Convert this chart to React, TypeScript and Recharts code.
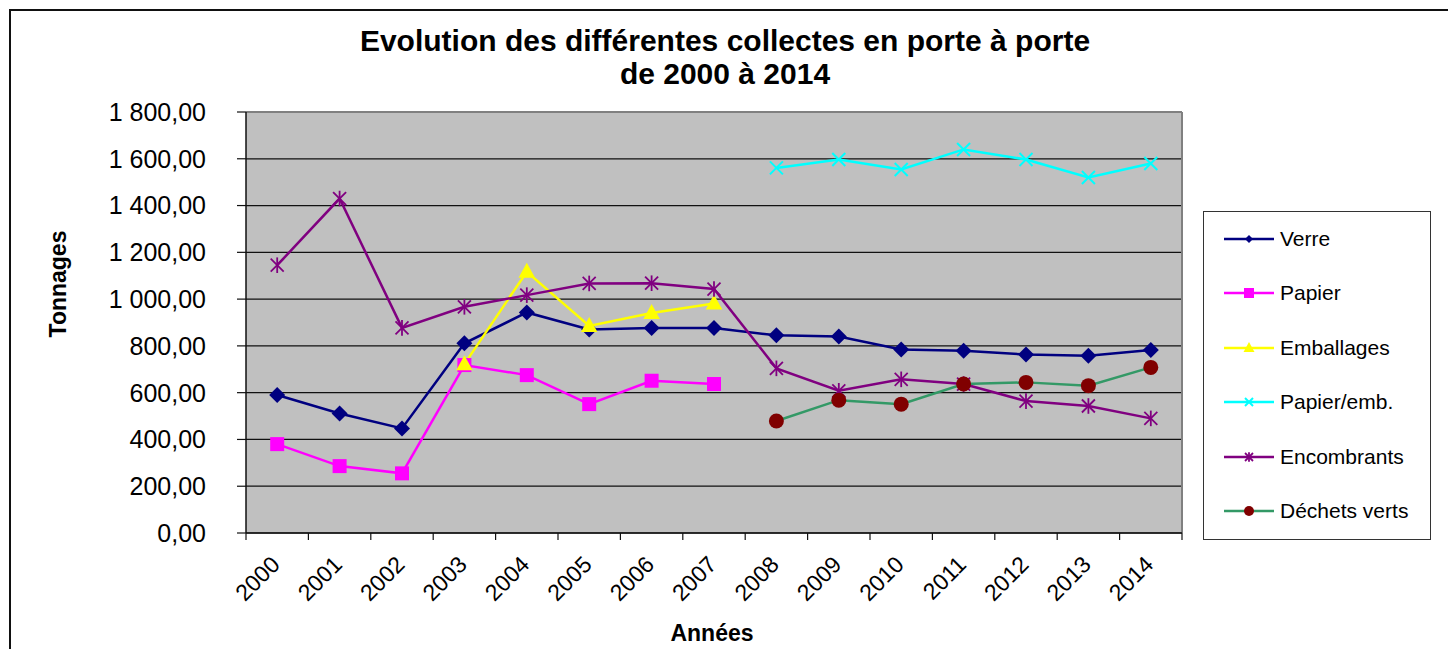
import React from 'react'
import { LineChart, Line, XAxis, YAxis, CartesianGrid, ReferenceLine } from 'recharts'

const years = ['2000', '2001', '2002', '2003', '2004', '2005', '2006', '2007', '2008', '2009', '2010', '2011', '2012', '2013', '2014']
const verre = [590, 511, 447, 811, 943, 870, 876, 876, 845, 840, 785, 779, 763, 758, 782]
const papier = [380, 286, 255, 718, 675, 551, 651, 637, null, null, null, null, null, null, null]
const emballages = [null, null, null, 722, 1117, 885, 941, 981, null, null, null, null, null, null, null]
const papierEmb = [null, null, null, null, null, null, null, null, 1561, 1597, 1554, 1640, 1597, 1520, 1580]
const encombrants = [1145, 1430, 877, 967, 1017, 1067, 1068, 1043, 704, 608, 657, 637, 564, 543, 490]
const dechetsVerts = [null, null, null, null, null, null, null, null, 479, 568, 551, 637, 644, 630, 708]
const yTicks = [0, 200, 400, 600, 800, 1000, 1200, 1400, 1600, 1800]

const data = years.map((y, i) => ({
  i,
  year: y,
  verre: verre[i],
  papier: papier[i],
  emballages: emballages[i],
  papierEmb: papierEmb[i],
  encombrants: encombrants[i],
  dechetsVerts: dechetsVerts[i],
}))

// tick marks sit between the years, labels on the years
const bounds = [...years.map((_, i) => i - 0.5), years.length - 0.5]
const centers = years.map((_, i) => i)

const FONT = '"Liberation Sans", Arial, sans-serif'

const fmt = (v: number) => String(Math.round(v)).replace(/\B(?=(\d{3})+(?!\d))/g, ' ') + ',00'

type Shape = 'diamond' | 'square' | 'triangle' | 'x' | 'star' | 'circle'

function Marker({ shape, cx, cy, color, s }: { shape: Shape; cx: number; cy: number; color: string; s: number }) {
  switch (shape) {
    case 'diamond':
      return <polygon points={`${cx},${cy - s} ${cx + s},${cy} ${cx},${cy + s} ${cx - s},${cy}`} fill={color} />
    case 'square':
      return <rect x={cx - s} y={cy - s} width={s * 2} height={s * 2} fill={color} />
    case 'triangle':
      return <polygon points={`${cx},${cy - s * 1.2} ${cx + s * 1.1},${cy + s * 0.8} ${cx - s * 1.1},${cy + s * 0.8}`} fill={color} />
    case 'x':
      return (
        <g stroke={color} strokeWidth={2}>
          <line x1={cx - s} y1={cy - s} x2={cx + s} y2={cy + s} />
          <line x1={cx - s} y1={cy + s} x2={cx + s} y2={cy - s} />
        </g>
      )
    case 'star':
      return (
        <g stroke={color} strokeWidth={1.8}>
          <line x1={cx - s} y1={cy - s} x2={cx + s} y2={cy + s} />
          <line x1={cx - s} y1={cy + s} x2={cx + s} y2={cy - s} />
          <line x1={cx} y1={cy - s * 1.2} x2={cx} y2={cy + s * 1.2} />
        </g>
      )
    default:
      return <circle cx={cx} cy={cy} r={s} fill={color} />
  }
}

const dotFn = (shape: Shape, color: string, s: number) => (props: any) => {
  const { cx, cy, index, value } = props
  if (cx == null || cy == null || value == null || isNaN(cy)) return <g key={`d${index}`} />
  return (
    <g key={`d${index}`}>
      <Marker shape={shape} cx={cx} cy={cy} color={color} s={s} />
    </g>
  )
}

const series = [
  { key: 'verre', name: 'Verre', line: '#000080', marker: '#000080', shape: 'diamond' as Shape, s: 8, ls: 4 },
  { key: 'papier', name: 'Papier', line: '#FF00FF', marker: '#FF00FF', shape: 'square' as Shape, s: 7, ls: 5 },
  { key: 'emballages', name: 'Emballages', line: '#FFFF00', marker: '#FFFF00', shape: 'triangle' as Shape, s: 7.5, ls: 5 },
  { key: 'papierEmb', name: 'Papier/emb.', line: '#00FFFF', marker: '#00FFFF', shape: 'x' as Shape, s: 6.5, ls: 4 },
  { key: 'encombrants', name: 'Encombrants', line: '#800080', marker: '#800080', shape: 'star' as Shape, s: 6.5, ls: 4 },
  { key: 'dechetsVerts', name: 'Déchets verts', line: '#339966', marker: '#800000', shape: 'circle' as Shape, s: 7.5, ls: 5 },
]

function YearTick(props: any) {
  const { x, y, payload } = props
  const ax = x + 4
  const ay = y + 32
  return (
    <text x={ax} y={ay} transform={`rotate(-45, ${ax}, ${ay})`} textAnchor="end" fontSize={23} fill="#000" fontFamily={FONT}>
      {years[payload.value]}
    </text>
  )
}

const NoLabel = () => <g />

export default function App() {
  return (
    <div style={{ position: 'absolute', left: 0, top: 0, width: 1448, height: 649, overflow: 'hidden', background: '#fff', fontFamily: FONT }}>
      <div style={{ position: 'absolute', left: 9, top: 9, width: 1500, height: 700, border: '2px solid #111' }} />
      <div style={{ position: 'absolute', left: 0, width: 1450, top: 24, textAlign: 'center', fontWeight: 'bold', fontSize: 30, lineHeight: '33px' }}>
        Evolution des différentes collectes en porte à porte
        <br />
        de 2000 à 2014
      </div>
      <div style={{ position: 'absolute', left: 58, top: 284, transform: 'translate(-50%, -50%) rotate(-90deg)', fontWeight: 'bold', fontSize: 23, whiteSpace: 'nowrap' }}>
        Tonnages
      </div>
      <div style={{ position: 'absolute', left: 712, top: 633, transform: 'translate(-50%, -50%)', fontWeight: 'bold', fontSize: 23 }}>
        Années
      </div>
      <div style={{ position: 'absolute', left: 0, top: 0 }}>
        <LineChart width={1448} height={649} data={data} margin={{ top: 112, right: 266, bottom: 16, left: 10 }}>
          <CartesianGrid vertical={false} fill="#C0C0C0" stroke="#111" strokeWidth={1.2} />
          <XAxis
            dataKey="i"
            type="number"
            domain={[-0.5, 14.5]}
            ticks={bounds}
            interval={0}
            height={1}
            tick={<NoLabel />}
            tickSize={7}
            axisLine={{ stroke: '#111', strokeWidth: 1.5 }}
            tickLine={{ stroke: '#111', strokeWidth: 1.2 }}
            allowDataOverflow
          />
          <XAxis
            xAxisId="lab"
            dataKey="i"
            type="number"
            domain={[-0.5, 14.5]}
            ticks={centers}
            interval={0}
            height={99}
            tickSize={0}
            tickMargin={0}
            axisLine={false}
            tickLine={false}
            tick={<YearTick />}
            allowDataOverflow
          />
          <YAxis
            width={236}
            domain={[0, 1800]}
            ticks={yTicks}
            interval={0}
            tickFormatter={fmt}
            tickSize={9}
            tickMargin={31}
            axisLine={{ stroke: '#111', strokeWidth: 1.5 }}
            tickLine={{ stroke: '#111', strokeWidth: 1.2 }}
            tick={{ fontSize: 25, fill: '#000', fontFamily: FONT }}
          />
          <ReferenceLine y={1800} stroke="#808080" strokeWidth={2} />
          <ReferenceLine x={14.5} stroke="#808080" strokeWidth={2} />
          {series.map((s) => (
            <Line
              key={s.key}
              dataKey={s.key}
              name={s.name}
              type="linear"
              stroke={s.line}
              strokeWidth={2.5}
              dot={dotFn(s.shape, s.marker, s.s)}
              activeDot={false}
              connectNulls={false}
              isAnimationActive={false}
            />
          ))}
        </LineChart>
      </div>
      <div style={{ position: 'absolute', left: 1203, top: 211, width: 226, height: 327, border: '1.5px solid #333', background: '#fff' }}>
        {series.map((s, k) => (
          <div key={s.key} style={{ position: 'absolute', left: 0, top: 27 + k * 54.4 - 15, height: 30, display: 'flex', alignItems: 'center' }}>
            <svg width={76} height={30} style={{ display: 'block' }}>
              <line x1={20} y1={15} x2={70} y2={15} stroke={s.line} strokeWidth={2.5} />
              <Marker shape={s.shape} cx={45} cy={15} color={s.marker} s={s.ls} />
            </svg>
            <span style={{ fontSize: 21, color: '#000', whiteSpace: 'nowrap' }}>{s.name}</span>
          </div>
        ))}
      </div>
    </div>
  )
}
